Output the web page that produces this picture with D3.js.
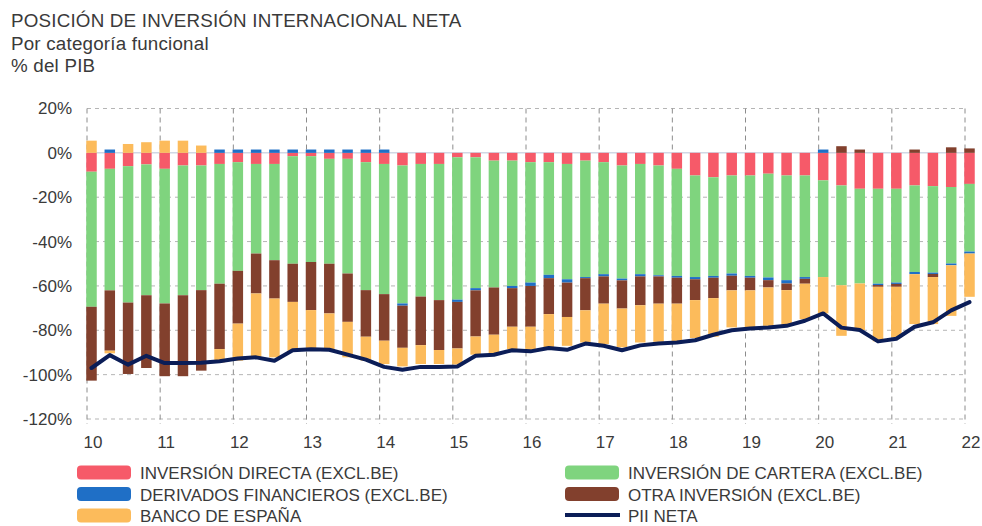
<!DOCTYPE html>
<html>
<head>
<meta charset="utf-8">
<script src="https://cdn.jsdelivr.net/npm/d3@7"></script>
<style>
  body { margin: 0; background: #fff; }
  text { font-family: "Liberation Sans", Arial, sans-serif; fill: #3a3a3a; }
</style>
</head>
<body>
<div id="chartDiv"></div>
<script>

// quarters 2010 T1 .. 2022 T1
var quarters = ["10T1","10T2","10T3","10T4","11T1","11T2","11T3","11T4",
  "12T1","12T2","12T3","12T4","13T1","13T2","13T3","13T4",
  "14T1","14T2","14T3","14T4","15T1","15T2","15T3","15T4",
  "16T1","16T2","16T3","16T4","17T1","17T2","17T3","17T4",
  "18T1","18T2","18T3","18T4","19T1","19T2","19T3","19T4",
  "20T1","20T2","20T3","20T4","21T1","21T2","21T3","21T4","22T1"];

var yearTicks = ["10T1","11T1","12T1","13T1","14T1","15T1","16T1","17T1","18T1","19T1","20T1","21T1","22T1"];
var yearLabels = ["10","11","12","13","14","15","16","17","18","19","20","21","22"];
var yTicks = [20, 0, -20, -40, -60, -80, -100, -120];

// % del PIB
var directa = [-8.5,-7.2,-6,-5.2,-7.2,-5.7,-5.7,-5,
  -4.2,-5,-5,-1.5,-1.5,-2.7,-2.7,-4.2,
  -5,-5.7,-5,-5,-2,-2,-3.5,-3.5,
  -4.2,-4.2,-5,-3.5,-4.2,-5.7,-5,-5.7,
  -7.2,-10.2,-11,-10.2,-10.2,-9.4,-10.2,-10.2,
  -12.4,-14.7,-16.2,-16.2,-16.2,-14.7,-15,-15.4,-14];
var cartera = [-60.9,-54.8,-61.5,-59,-60.7,-58.5,-56.2,-54,
  -49,-40.4,-43.4,-48.5,-47.7,-47.3,-51.7,-57.7,
  -58.7,-62.2,-59.8,-61.4,-64.2,-59,-57.2,-56.5,
  -54.3,-50.8,-52,-52.5,-50.5,-51,-49.7,-49.5,
  -48.3,-45.8,-44.5,-44.2,-45.3,-46.8,-47.2,-45.8,
  -43.6,-45,-42.7,-42.8,-42.3,-39,-39,-34.5,-30.5];
var derivados = [0,1.5,0,0,0,0,0,1.5,
  1.5,1.5,1.5,1.5,1.5,1.5,1.5,1.5,
  1.5,-1,0,0,-1,-1,0,-1,
  -1.5,-1.5,-1.5,-0.5,-1,-0.8,-1,-0.5,
  -0.8,-1,-0.8,-1,-0.8,-1.2,-1.5,-0.8,
  1.5,0,0,-0.6,-0.6,-1,-0.6,-0.8,-0.9];
var otra = [-33.3,-27.2,-32.2,-32.8,-32.8,-36.5,-36.3,-29.5,
  -23.8,-18,-17.3,-17.2,-21.7,-22.4,-21.8,-21,
  -21,-19,-21.9,-22.5,-21,-20.8,-21.3,-17.4,
  -18.4,-16.2,-15.5,-14.5,-12.3,-12.7,-13,-12.3,
  -11.7,-9.4,-9.2,-6.6,-5.7,-3.3,-3,-2.2,
  0,3,1.5,-0.8,-1.3,1.5,-1.4,2.5,2];
var bde = [5.5,-1.2,4,4.8,5.5,5.5,3.3,-6,
  -16.7,-28.8,-26.5,-22,-18.3,-16.8,-16,-10.8,
  -10.5,-8.4,-8.5,-6.3,-7.2,-8.2,-8.4,-10.1,
  -11.1,-15,-13,-14.5,-18.2,-17.5,-16.8,-17.2,
  -17,-17.1,-17.4,-16.7,-16.7,-17.3,-16,-16,
  -16.4,-22.8,-21,-24.6,-22.8,-22.5,-21.2,-22.8,-19.5];
var piiNeta = [-97,-91.2,-95.5,-91.5,-94.8,-94.8,-94.6,-94,
  -92.7,-92.2,-93.7,-89,-88.6,-88.8,-91,-93.2,
  -96.5,-97.8,-96.5,-96.5,-96.3,-91.5,-91,-89,
  -89.5,-88,-88.8,-86,-87,-89,-86.8,-86,
  -85.5,-84.5,-82,-80,-79.2,-78.7,-78,-75.7,
  -72.4,-78.8,-79.9,-85,-83.8,-78.4,-76.4,-71,-67.3];

var keys = ["directa", "cartera", "derivados", "otra", "bde"];
var colors = {directa: "#f65a69", cartera: "#7fd47e", derivados: "#1f6fc6",
              otra: "#82402d", bde: "#fcbb5b"};
var lineColor = "#0b1d57";

var rows = quarters.map(function(q, i) {
  return {q: q, directa: directa[i], cartera: cartera[i], derivados: derivados[i],
          otra: otra[i], bde: bde[i]};
});

var svg = d3.select("#chartDiv").append("svg")
    .attr("width", 982)
    .attr("height", 526);

// titles
var titles = ["POSICIÓN DE INVERSIÓN INTERNACIONAL NETA", "Por categoría funcional", "% del PIB"];
svg.selectAll(".title").data(titles).enter().append("text")
    .attr("class", "title")
    .attr("x", 11)
    .attr("y", function(d, i) { return 27 + i * 22.5; })
    .style("font-size", "18.8px")
    .style("letter-spacing", "0.2px")
    .text(function(d) { return d; });

var x = d3.scalePoint()
    .domain(quarters)
    .range([91.5, 969.5]);

var y = d3.scaleLinear()
    .domain([-120, 20])
    .range([419, 108.5]);

var barW = 10.5;
var gridLeft = x(quarters[0]) - 4.5,
    gridRight = x(quarters[quarters.length - 1]) - 3;

// horizontal grid
svg.append("g").selectAll("line").data(yTicks.filter(function(d) { return d != 0; }))
  .enter().append("line")
    .attr("x1", gridLeft).attr("x2", gridRight)
    .attr("y1", function(d) { return y(d); })
    .attr("y2", function(d) { return y(d); })
    .attr("stroke", "#b5b5b5")
    .attr("stroke-width", 1)
    .attr("stroke-dasharray", "4,4");

// vertical grid at each year
svg.append("g").selectAll("line").data(yearTicks)
  .enter().append("line")
    .attr("x1", function(d) { return x(d) - 4.5; })
    .attr("x2", function(d) { return x(d) - 4.5; })
    .attr("y1", y(20))
    .attr("y2", y(-120) + 5)
    .attr("stroke", "#8c8c8c")
    .attr("stroke-width", 1)
    .attr("stroke-dasharray", "5,4");

// zero line
svg.append("line")
    .attr("x1", gridLeft).attr("x2", gridRight)
    .attr("y1", y(0)).attr("y2", y(0))
    .attr("stroke", "#b9c4d8")
    .attr("stroke-width", 1);

// stacked bars
var series = d3.stack()
    .keys(keys)
    .order(d3.stackOrderNone)
    .offset(d3.stackOffsetDiverging)(rows);

svg.append("g").selectAll("g").data(series).enter().append("g")
    .attr("fill", function(d) { return colors[d.key]; })
  .selectAll("rect").data(function(d) { return d; }).enter().append("rect")
    .attr("x", function(d) { return x(d.data.q) - barW / 2; })
    .attr("width", barW)
    .attr("y", function(d) { return y(Math.max(d[0], d[1])); })
    .attr("height", function(d) { return Math.abs(y(d[0]) - y(d[1])); });

// PII neta line
var line = d3.line()
    .x(function(d, i) { return x(quarters[i]); })
    .y(function(d) { return y(d); });

svg.append("path")
    .datum(piiNeta)
    .attr("d", line)
    .attr("fill", "none")
    .attr("stroke", lineColor)
    .attr("stroke-width", 4)
    .attr("stroke-linejoin", "round")
    .attr("stroke-linecap", "round");

// axes
var yAxis = d3.axisLeft(y)
    .tickValues(yTicks)
    .tickSize(0)
    .tickPadding(0)
    .tickFormat(function(d) { return d + "%"; });

var yG = svg.append("g").attr("transform", "translate(72,0)").call(yAxis);
yG.select(".domain").remove();
yG.selectAll("text").style("font-size", "17px").attr("fill", "#3a3a3a");

var xAxis = d3.axisBottom(x)
    .tickValues(yearTicks)
    .tickSize(0)
    .tickPadding(17)
    .tickFormat(function(d, i) { return yearLabels[i]; });

var xG = svg.append("g").attr("transform", "translate(1,419)").call(xAxis);
xG.select(".domain").remove();
xG.selectAll("text").style("font-size", "17px").attr("fill", "#3a3a3a");

// legend
var legendItems = [
  {label: "INVERSIÓN DIRECTA (EXCL.BE)", key: "directa", col: 0, row: 0},
  {label: "DERIVADOS FINANCIEROS (EXCL.BE)", key: "derivados", col: 0, row: 1},
  {label: "BANCO DE ESPAÑA", key: "bde", col: 0, row: 2},
  {label: "INVERSIÓN DE CARTERA (EXCL.BE)", key: "cartera", col: 1, row: 0},
  {label: "OTRA INVERSIÓN (EXCL.BE)", key: "otra", col: 1, row: 1},
  {label: "PII NETA", key: "line", col: 1, row: 2}
];
var colX = [77, 565];

var leg = svg.append("g").selectAll("g").data(legendItems).enter().append("g")
    .attr("transform", function(d) { return "translate(" + colX[d.col] + "," + (479 + d.row * 21.5) + ")"; });

leg.filter(function(d) { return d.key != "line"; }).append("rect")
    .attr("x", 0).attr("y", -13.5)
    .attr("width", 54).attr("height", 14)
    .attr("rx", 4)
    .attr("fill", function(d) { return colors[d.key]; });

leg.filter(function(d) { return d.key == "line"; }).append("line")
    .attr("x1", 0).attr("x2", 55)
    .attr("y1", -7).attr("y2", -7)
    .attr("stroke", lineColor)
    .attr("stroke-width", 4);

leg.append("text")
    .attr("x", 63)
    .attr("y", 0)
    .style("font-size", "17px")
    .text(function(d) { return d.label; });

</script>
</body>
</html>
